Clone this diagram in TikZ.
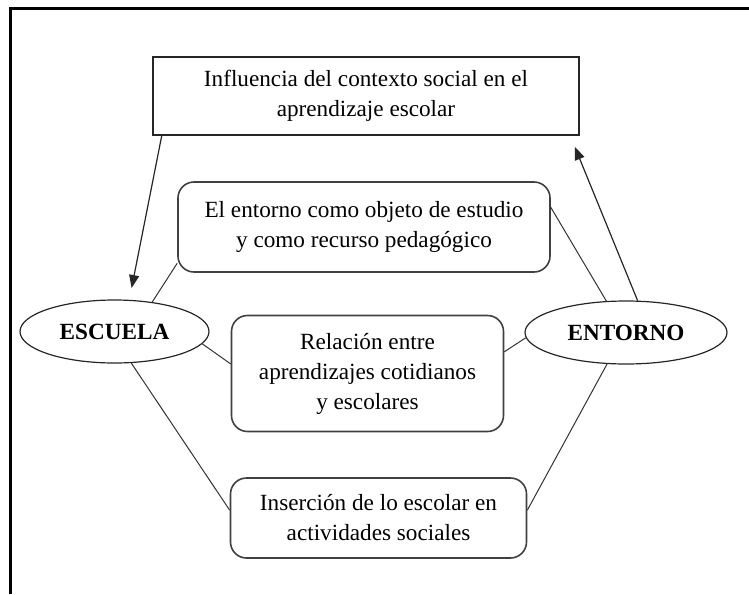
\documentclass[tikz,border=0pt]{standalone}
\usepackage{fontspec}
\setmainfont{Liberation Serif}
\usepackage{tikz}
\usetikzlibrary{shapes.geometric}
\usetikzlibrary{arrows.meta}

\begin{document}
\begin{tikzpicture}[
						x=0.5pt, y=-0.5pt,
						font=\fontsize{11.6}{15}\selectfont,
						squarenode/.style={rectangle, draw=black!85, line width=0.7pt, inner sep=0pt, align=center},
						roundbox/.style={rectangle, rounded corners=8pt, draw=black!75, line width=0.8pt, inner sep=0pt, align=center},
						ovalnode/.style={ellipse, draw=black!85, line width=0.6pt, inner sep=0pt, font=\fontsize{11.6}{15}\selectfont\bfseries},
						link/.style={draw=black!80, line width=0.5pt},
						arrowlink/.style={draw=black!85, line width=0.6pt, -{Triangle[length=6.5pt,width=5pt]}, shorten >=6pt},
						]
						\useasboundingbox (0,0) rectangle (749,594);
						%Frame
						\draw[line width=1.5pt] (10,594) -- (10,8) -- (749,8);
						%Nodes
						\node[squarenode, minimum width=213pt, minimum height=39pt] (influencia) at (366,96) {Influencia del contexto social en el\\aprendizaje escolar};
						\node[roundbox, minimum width=186pt, minimum height=45pt]   (entorno) at (364,227) {El entorno como objeto de estudio\\y como recurso pedagógico};
						\node[roundbox, minimum width=136pt, minimum height=58pt]   (relacion) at (367.5,373.5) {Relación entre\\aprendizajes cotidianos\\y escolares};
						\node[roundbox, minimum width=148pt, minimum height=40pt]   (insercion) at (378.5,518) {Inserción de lo escolar en\\actividades sociales};
						\node[ovalnode, minimum width=94.5pt, minimum height=31.5pt] (escuela) at (114.5,331.5) {ESCUELA};
						\node[ovalnode, minimum width=101pt, minimum height=31.5pt]  (entornobis) at (626,332.5) {ENTORNO};
						
						%Lines
						\draw[link] (escuela.38) -- (entorno.191);
						\draw[link] (escuela.-8) -- (relacion.176);
						\draw[link] (escuela.-62) -- (insercion.177);
						\draw[link] (entornobis.122) -- (entorno.6);
						\draw[link] (entornobis.183) -- (relacion.9);
						\draw[link] (entornobis.239) -- (insercion.3);
						%Arrows
						\draw[arrowlink] (influencia.191) -- (escuela.65);
						\draw[arrowlink] (entornobis.70) -- (influencia.-11);
					\end{tikzpicture}
\end{document}
